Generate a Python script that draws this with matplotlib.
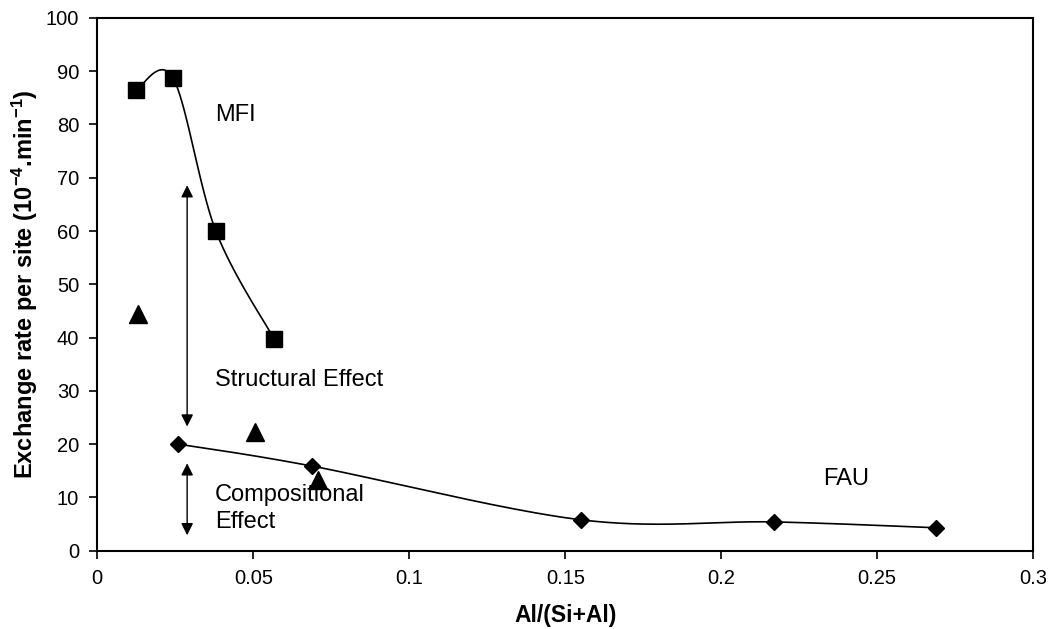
import matplotlib
matplotlib.use('Agg')
import matplotlib.pyplot as plt
import numpy as np

plt.rcParams['font.family'] = ['Liberation Sans', 'DejaVu Sans']
plt.rcParams['mathtext.default'] = 'regular'

# MFI (squares, smoothed line)
mfi_x = [0.0125, 0.0243, 0.0380, 0.0566]
mfi_y = [86.5, 88.7, 60.0, 39.8]

# FAU (diamonds, smoothed line)
fau_x = [0.0260, 0.0687, 0.155, 0.217, 0.269]
fau_y = [20.0, 15.9, 5.8, 5.4, 4.3]

# triangles (no line)
tri_x = [0.0130, 0.0505, 0.0706]
tri_y = [44.5, 22.3, 13.3]


def smooth(x, y, n=40):
	# catmull-rom through the points, like excel's smoothed line
	x = np.asarray(x, float)
	y = np.asarray(y, float)
	px = np.concatenate([[x[0]], x, [x[-1]]])
	py = np.concatenate([[y[0]], y, [y[-1]]])
	xs, ys = [], []
	t = np.linspace(0, 1, n)
	for i in range(1, len(px) - 2):
		for p, out in ((px, xs), (py, ys)):
			p0, p1, p2, p3 = p[i - 1], p[i], p[i + 1], p[i + 2]
			m1 = (p2 - p0) / 2.0
			m2 = (p3 - p1) / 2.0
			h00 = 2 * t**3 - 3 * t**2 + 1
			h10 = t**3 - 2 * t**2 + t
			h01 = -2 * t**3 + 3 * t**2
			h11 = t**3 - t**2
			out.extend(h00 * p1 + h10 * m1 + h01 * p2 + h11 * m2)
	return xs, ys


fig = plt.figure(figsize=(10.53, 6.29), dpi=100)
ax = fig.add_axes([0.0924, 0.1245, 0.8888, 0.847])

sx, sy = smooth(mfi_x, mfi_y)
ax.plot(sx, sy, '-', color='black', lw=1.2)
ax.plot(mfi_x, mfi_y, 's', color='black', ms=11.5)

sx, sy = smooth(fau_x, fau_y)
ax.plot(sx, sy, '-', color='black', lw=1.2)
ax.plot(fau_x, fau_y, 'D', color='black', ms=8.5)

ax.plot(tri_x, tri_y, '^', color='black', ms=13, lw=0)

arrow = dict(arrowstyle='<|-|>', color='black', lw=1, mutation_scale=18, shrinkA=0, shrinkB=0)
ax.annotate('', xy=(0.0288, 68.6), xytext=(0.0288, 23.3), arrowprops=arrow)
ax.annotate('', xy=(0.0288, 16.4), xytext=(0.0288, 2.9), arrowprops=arrow)

fs = 17
ax.text(0.0378, 81.7, 'MFI', fontsize=fs, va='center')
ax.text(0.0378, 32, 'Structural Effect', fontsize=fs, va='center')
ax.text(0.0378, 10.5, 'Compositional', fontsize=fs, va='center')
ax.text(0.0378, 5.4, 'Effect', fontsize=fs, va='center')
ax.text(0.2326, 13.4, 'FAU', fontsize=fs, va='center')

ax.set_xlim(0, 0.3)
ax.set_ylim(0, 100)
ax.set_xticks([0, 0.05, 0.1, 0.15, 0.2, 0.25, 0.3])
ax.set_xticklabels(['0', '0.05', '0.1', '0.15', '0.2', '0.25', '0.3'])
ax.set_yticks(range(0, 101, 10))
ax.tick_params(labelsize=14.5, length=6, width=1.2, direction='out', pad=7)
for s in ax.spines.values():
	s.set_linewidth(1.5)

ax.set_xlabel('Al/(Si+Al)', fontsize=16.5, fontweight='bold', labelpad=12)
ax.set_ylabel('Exchange rate per site (10$^{-4}$.min$^{-1}$)', fontsize=17, fontweight='bold', labelpad=4)

plt.savefig('out.png', dpi=100)
